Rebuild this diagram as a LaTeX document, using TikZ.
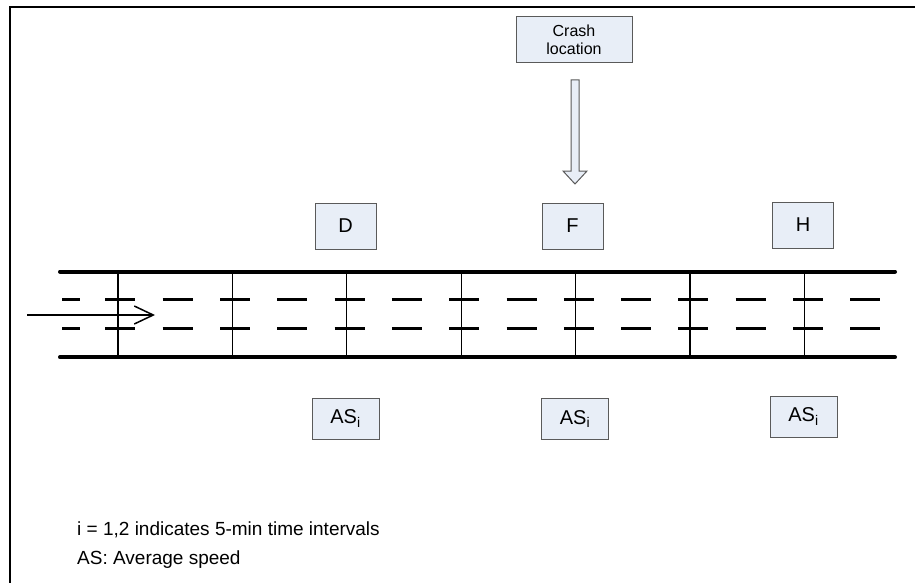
\documentclass[tikz,border=0pt]{standalone}
\usepackage{fontspec}
\setmainfont{Liberation Sans}
\usetikzlibrary{arrows.meta}
\definecolor{boxfill}{HTML}{E8EEF7}
\definecolor{boxline}{HTML}{5A5A5A}
\begin{document}
\begin{tikzpicture}[x=1pt,y=-1pt,
  box/.style={draw=boxline, fill=boxfill, line width=1pt, inner sep=0pt, font=\fontsize{20}{23}\selectfont},
  lblbox/.style={box, minimum width=61pt, minimum height=46pt},
  asbox/.style={box, minimum width=67pt, minimum height=41pt},
  road/.style={line width=4pt, line cap=round},
  lanedash/.style={line width=2.5pt},
  sect/.style={line width=1.2pt},
  legend/.style={anchor=base west, inner sep=0pt, font=\fontsize{19}{22}\selectfont}]
\useasboundingbox (0,0) rectangle (915,583);
% frame
\draw[line width=2.5pt] (10,583) -- (10,7) -- (915,7);
% crash location
\node[box, minimum width=116pt, minimum height=46pt, align=center, font=\fontsize{16}{17.6}\selectfont] (crash) at (574,40) {Crash\\location};
\draw[draw=boxline, fill=boxfill, line width=1pt] (571,80) -- (579,80) -- (579,171) -- (587,171) -- (575,184) -- (563,171) -- (571,171) -- cycle;
% top boxes
\node[lblbox] (D) at (345.5,226) {D};
\node[lblbox] (F) at (572.5,226) {F};
\node[lblbox] (H) at (803,225) {H};
% road
\draw[road] (60,271.5) -- (895,271.5);
\draw[road] (60,357.3) -- (895,357.3);
\foreach \k in {0,...,6} {
  \draw[sect] ({118+114.4*\k},271.5) -- ({118+114.4*\k},357.3);
}
\foreach \y in {299.3,328.3} {
  \draw[lanedash] (62,\y) -- (80,\y);
  \foreach \k in {-1,...,12} {
    \draw[lanedash] ({808-57.3*\k-15},\y) -- ({808-57.3*\k+15},\y);
  }
}
% traffic arrow
\coordinate (ain) at (27,315);
\coordinate (aout) at (155,315);
\draw[line width=1.5pt, -{Straight Barb[length=19pt,width=18pt,line width=1.5pt]}] (ain) -- (aout);
% bottom boxes
\node[asbox] (ASD) at (345.5,418.5) {AS\textsubscript{i}};
\node[asbox] (ASF) at (575,419) {AS\textsubscript{i}};
\node[asbox] (ASH) at (803.5,416.5) {AS\textsubscript{i}};
% legend
\node[legend] (l1) at (77,535) {i = 1,2 indicates 5-min time intervals};
\node[legend] (l2) at (77,564) {AS: Average speed};
\end{tikzpicture}
\end{document}
